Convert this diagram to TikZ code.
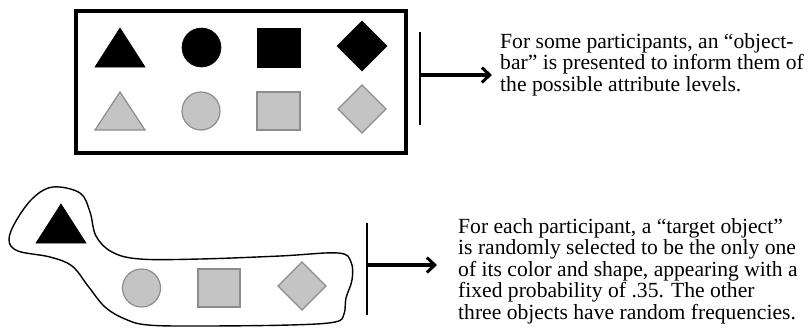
\documentclass[tikz,border=0pt]{standalone}
\usepackage{fontspec}
\setmainfont{Liberation Serif}
\usetikzlibrary{arrows.meta}
\definecolor{shapegray}{HTML}{C4C4C4}
\definecolor{edgegray}{HTML}{8C8C8C}
\newcommand{\desctext}[1]{\parbox[t]{350pt}{\raggedright\fontsize{21.6}{21.6}\selectfont #1\par}}
\begin{document}
\begin{tikzpicture}[x=1pt,y=-1pt,
  blk/.style={fill=black,draw=black,line width=0.6pt,line join=miter},
  gry/.style={fill=shapegray,draw=edgegray,line width=1.2pt,line join=miter},
  bar/.style={line width=1.5pt},
  arr/.style={line width=3.2pt,-{Straight Barb[length=8pt,width=15pt,line width=3pt]}},
  desc/.style={inner sep=0pt,anchor=north west}]
\useasboundingbox (0,0) rectangle (811,327);
% ---------- top object bar ----------
\draw[line width=4pt] (76,11) rectangle (406,153);
\fill[blk] (95,67) -- (120,28) -- (145,67) -- cycle;
\fill[blk] (201.5,47.5) circle (19.5);
\fill[blk] (257,28) rectangle (300,67);
\fill[blk] (362,21) -- (387,46) -- (362,71) -- (337,46) -- cycle;
\filldraw[gry] (95,130) -- (120,92) -- (145,130) -- cycle;
\filldraw[gry] (201,111) circle (19);
\filldraw[gry] (257,92) rectangle (300,130);
\filldraw[gry] (362,85) -- (386,109) -- (362,133) -- (338,109) -- cycle;
% bar + arrow + text
\coordinate (b1t) at (420,32);
\coordinate (b1b) at (420,125);
\coordinate (b1m) at (420,75);
\coordinate (t1) at (492,75);
\draw[bar] (b1t) -- (b1b);
\draw[arr] (b1m) -- (t1);
\node[desc] (txt1) at (500,33)
  {\desctext{For some participants, an “object-\\bar” is presented to inform them of\\the possible attribute levels.}};
% ---------- bottom target object ----------
\draw[line width=1.4pt] plot[smooth cycle,tension=0.6] coordinates {
  (53,187) (80,193) (90,212) (96,236) (112,252) (140,259) (200,259) (280,256)
  (338,253) (351,262) (352,280) (346,298) (344,314) (335,322) (290,325)
  (200,326) (148,325) (125,319) (105,307) (88,286) (72,266) (50,257)
  (18,251) (9,240) (16,221) (33,198)};
\fill[blk] (36,243) -- (61,204) -- (86,243) -- cycle;
\filldraw[gry] (141.5,288) circle (19);
\filldraw[gry] (198,269) rectangle (240,307);
\filldraw[gry] (302,262) -- (326,286) -- (302,310) -- (278,286) -- cycle;
\coordinate (b2t) at (367,223);
\coordinate (b2b) at (367,315);
\coordinate (b2m) at (367,265);
\coordinate (t2) at (437,265);
\draw[bar] (b2t) -- (b2b);
\draw[arr] (b2m) -- (t2);
\node[desc] (txt2) at (458,218)
  {\desctext{For each participant, a “target object”\\is randomly selected to be the only one\\of its color and shape, appearing with a\\fixed probability of .35. The other\\three objects have random frequencies.}};
\end{tikzpicture}
\end{document}
